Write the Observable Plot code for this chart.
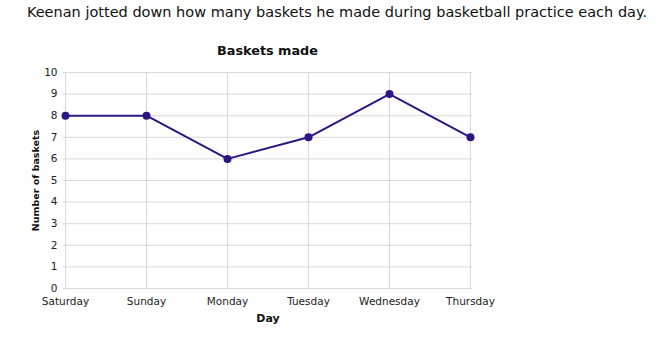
<!DOCTYPE html>
<html>
<head>
<meta charset="utf-8">
<script src="https://cdn.jsdelivr.net/npm/d3@7"></script>
<script src="https://cdn.jsdelivr.net/npm/@observablehq/plot@0.6"></script>
<style>
  html, body { margin: 0; padding: 0; background: #fff; }
  #wrap { position: relative; width: 670px; height: 353px; font-family: "DejaVu Sans", Verdana, sans-serif; }
  #question { position: absolute; left: 0; width: 670px; top: 4px; text-align: center; font-size: 14.5px; color: #111; padding-left: 4px; box-sizing: border-box; }
  #ctitle { position: absolute; left: 63px; width: 409px; top: 43px; text-align: center; font-size: 12.8px; font-weight: bold; color: #111; }
  #chart { position: absolute; left: 0; top: 0; }
</style>
</head>
<body>
<div id="wrap">
  <div id="chart"></div>
  <div id="question">Keenan jotted down how many baskets he made during basketball practice each day.</div>
  <div id="ctitle">Baskets made</div>
</div>
<script>
const days = ["Saturday", "Sunday", "Monday", "Tuesday", "Wednesday", "Thursday"];
const baskets = [8, 8, 6, 7, 9, 7];
const yTicks = [0, 1, 2, 3, 4, 5, 6, 7, 8, 9, 10];

const data = days.map((d, i) => ({day: d, value: baskets[i]}));
const lineColor = "#2c1584";
const gridColor = "#d8d8d8";

const chart = Plot.plot({
  width: 670,
  height: 353,
  marginLeft: 63,
  marginRight: 198,
  marginTop: 72,
  marginBottom: 65,
  style: {fontFamily: "'DejaVu Sans', Verdana, sans-serif", fontSize: "10.5px", color: "#222", background: "transparent"},
  x: {type: "point", domain: days, padding: 0},
  y: {domain: [0, 10]},
  marks: [
    Plot.gridY(yTicks, {stroke: gridColor, strokeOpacity: 1}),
    Plot.gridX(days, {stroke: gridColor, strokeOpacity: 1}),
    Plot.axisY(yTicks, {tickSize: 0, tickPadding: 6, label: null}),
    Plot.axisX(days, {tickSize: 0, tickPadding: 9, label: null}),
    Plot.text(["Number of baskets"], {frameAnchor: "left", textAnchor: "middle", dx: -28, rotate: -90, fontWeight: "bold", fontSize: 9.5, fill: "#111"}),
    Plot.text(["Day"], {frameAnchor: "bottom", dy: 33, fontWeight: "bold", fontSize: 11, fill: "#111"}),
    Plot.line(data, {x: "day", y: "value", stroke: lineColor, strokeWidth: 2}),
    Plot.dot(data, {x: "day", y: "value", fill: lineColor, r: 4})
  ]
});
document.getElementById("chart").appendChild(chart);
</script>
</body>
</html>
